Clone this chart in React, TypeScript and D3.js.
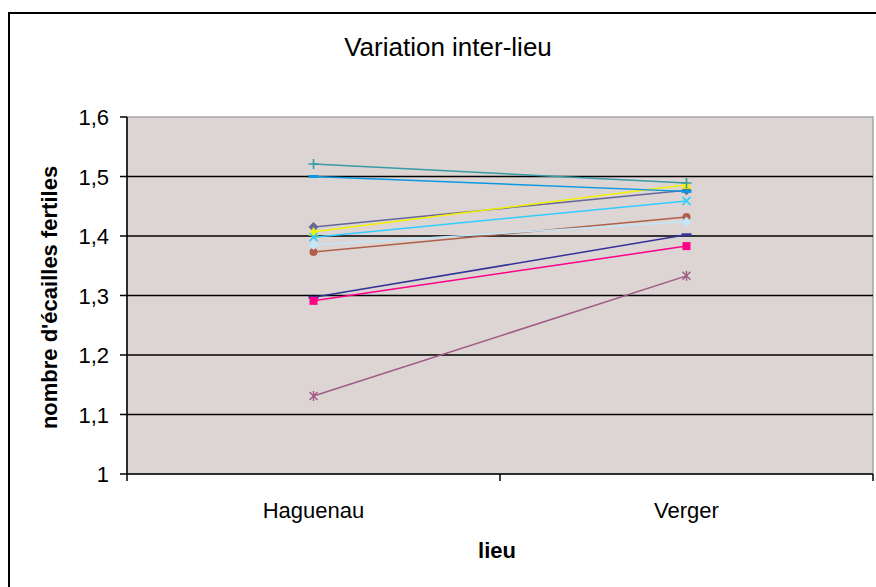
import React from "react";
import * as d3 from "d3";

const categories = ["Haguenau", "Verger"];
const seriesNames = ["S1", "S2", "S3", "S4", "S5", "S6", "S7", "S8", "S9", "S10"];
const haguenauValues = [1.415, 1.297, 1.291, 1.407, 1.398, 1.131, 1.373, 1.521, 1.5, 1.385];
const vergerValues = [1.477, 1.402, 1.383, 1.486, 1.459, 1.333, 1.432, 1.489, 1.475, 1.424];
const yTicks = [1, 1.1, 1.2, 1.3, 1.4, 1.5, 1.6];

const colors = ["#666699", "#333399", "#ff0088", "#f2f200", "#33ccff", "#a05a84", "#b0604a", "#3a9aa6", "#0a98e0", "#c4e6f8"];
const markers = ["diamond", "dash", "square", "triangle", "x", "star", "circle", "plus", "dash", "diamond"];

const W = 876, H = 587;
const plot = { left: 127, right: 873, top: 117, bottom: 474 };

function Marker({ type, x, y, color }: { type: string; x: number; y: number; color: string }) {
  const s = 4;
  switch (type) {
    case "dash":
      return <rect x={x - 5} y={y - 1.5} width={10} height={3} fill={color} />;
    case "square":
      return <rect x={x - 4} y={y - 4} width={8} height={8} fill={color} />;
    case "triangle":
      return <path d={`M${x},${y - 5}L${x + 5},${y + 4}L${x - 5},${y + 4}Z`} fill={color} />;
    case "diamond":
      return <path d={`M${x},${y - 5}L${x + 5},${y}L${x},${y + 5}L${x - 5},${y}Z`} fill={color} />;
    case "circle":
      return <circle cx={x} cy={y} r={4} fill={color} />;
    case "x":
      return (
        <path d={`M${x - s},${y - s}L${x + s},${y + s}M${x - s},${y + s}L${x + s},${y - s}`} stroke={color} strokeWidth={1.6} />
      );
    case "plus":
      return (
        <path d={`M${x - 5},${y}L${x + 5},${y}M${x},${y - 5}L${x},${y + 5}`} stroke={color} strokeWidth={1.6} />
      );
    case "star":
      return (
        <path
          d={`M${x - s},${y - s}L${x + s},${y + s}M${x - s},${y + s}L${x + s},${y - s}M${x},${y - 5}L${x},${y + 5}`}
          stroke={color}
          strokeWidth={1.4}
        />
      );
    default:
      return null;
  }
}

export default function App() {
  const x = d3.scaleBand<string>().domain(categories).range([plot.left, plot.right]).padding(0);
  const y = d3.scaleLinear().domain([1, 1.6]).range([plot.bottom, plot.top]);
  const cx = (c: string) => (x(c) as number) + x.bandwidth() / 2;
  const line = d3.line<[number, number]>().x((d) => d[0]).y((d) => d[1]);
  const catBoundaries = [plot.left, ...categories.map((c) => (x(c) as number) + x.bandwidth())];
  const font = "'Liberation Sans', Arial, sans-serif";

  return (
    <svg width={W} height={H} style={{ position: "absolute", left: 0, top: 0, background: "#fff" }}>
      <rect x={0} y={0} width={W} height={H} fill="#fff" />
      <rect x={9} y={13} width={880} height={600} fill="none" stroke="#000" strokeWidth={2} />
      <text x={448} y={56} textAnchor="middle" fontFamily={font} fontSize={26} fill="#000">
        Variation inter-lieu
      </text>
      <rect
        x={plot.left}
        y={plot.top}
        width={plot.right - plot.left}
        height={plot.bottom - plot.top}
        fill="#dcd5d3"
        stroke="#a8a4a4"
        strokeWidth={1.5}
      />
      {yTicks.slice(1, -1).map((t) => (
        <line key={t} x1={plot.left} x2={plot.right} y1={y(t)} y2={y(t)} stroke="#000" strokeWidth={1.5} />
      ))}
      {seriesNames.map((n, i) => {
        const pts: [number, number][] = [
          [cx(categories[0]), y(haguenauValues[i])],
          [cx(categories[1]), y(vergerValues[i])],
        ];
        return (
          <g key={n}>
            <path d={line(pts) || ""} stroke={colors[i]} strokeWidth={1.5} fill="none" />
            {pts.map((p, j) => (
              <Marker key={j} type={markers[i]} x={p[0]} y={p[1]} color={colors[i]} />
            ))}
          </g>
        );
      })}
      <line x1={plot.left} x2={plot.left} y1={plot.top} y2={plot.bottom} stroke="#000" strokeWidth={1.5} />
      <line x1={plot.left} x2={plot.right} y1={plot.bottom} y2={plot.bottom} stroke="#000" strokeWidth={1.5} />
      {yTicks.map((t) => (
        <g key={t}>
          <line x1={plot.left - 7} x2={plot.left} y1={y(t)} y2={y(t)} stroke="#000" strokeWidth={1.5} />
          <text
            x={plot.left - 18}
            y={y(t) + 8}
            textAnchor="end"
            fontFamily={font}
            fontSize={22}
            fill="#000"
          >
            {d3.format(".1f")(t).replace(".", ",").replace(/,0$/, "")}
          </text>
        </g>
      ))}
      {catBoundaries.map((b, i) => (
        <line key={i} x1={b} x2={b} y1={plot.bottom} y2={plot.bottom + 7} stroke="#000" strokeWidth={1.5} />
      ))}
      {categories.map((c) => (
        <text key={c} x={cx(c)} y={518} textAnchor="middle" fontFamily={font} fontSize={22} fill="#000">
          {c}
        </text>
      ))}
      <text x={497} y={558} textAnchor="middle" fontFamily={font} fontSize={22} fontWeight="bold" fill="#000">
        lieu
      </text>
      <text
        transform={`translate(57,${(plot.top + plot.bottom) / 2 + 2}) rotate(-90)`}
        textAnchor="middle"
        fontFamily={font}
        fontSize={22}
        fontWeight="bold"
        fill="#000"
      >
        nombre d'écailles fertiles
      </text>
    </svg>
  );
}
